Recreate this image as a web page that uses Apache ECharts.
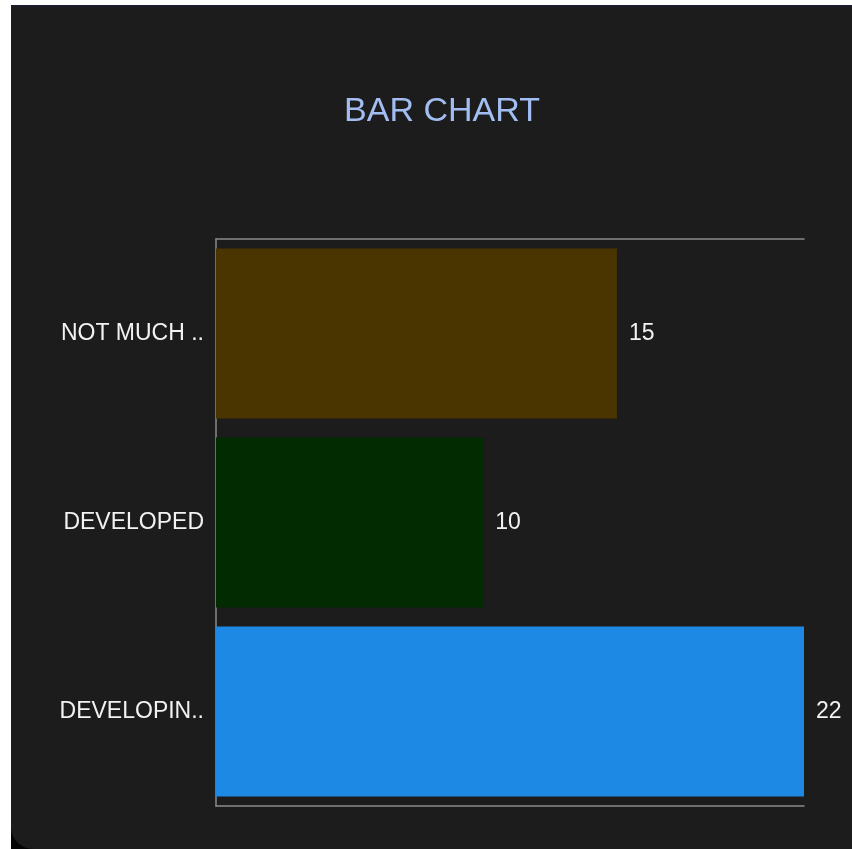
<!DOCTYPE html>
<html>
<head>
<meta charset="utf-8">
<script src="https://cdn.jsdelivr.net/npm/echarts@6/dist/echarts.min.js"></script>
<style>
  html, body { margin: 0; padding: 0; background: #ffffff; width: 852px; height: 849px; overflow: hidden; }
  #corner { position: absolute; left: 11px; top: 815px; width: 34px; height: 34px; background: #050505; }
  #card { position: absolute; left: 11px; top: 5px; width: 841px; height: 844px; background: #1c1c1c;
          border-top: 2px solid #1b1e2a; box-sizing: border-box; border-bottom-left-radius: 22px; }
  #chart { position: absolute; left: 0; top: 0; width: 852px; height: 849px; }
</style>
</head>
<body>
<div id="corner"></div>
<div id="card"></div>
<div id="chart"></div>
<script>
// Categories, values and colours for the bars
const categories = ["NOT MUCH ..", "DEVELOPED", "DEVELOPIN.."];
const values = [15, 10, 22];
const barColors = ["#4a3500", "#022b02", "#1e88e5"];

const chart = echarts.init(document.getElementById('chart'));

const lineStyle = { color: '#8a8a8a', width: 1.5 };
const labelFont = 'Liberation Sans, Arial, sans-serif';

chart.setOption({
  backgroundColor: 'transparent',
  animation: false,
  title: {
    text: 'BAR CHART',
    left: 437,
    textAlign: 'center',
    top: 90,
    textStyle: { color: '#a2bdf1', fontSize: 34, fontWeight: 'normal', fontFamily: labelFont }
  },
  grid: { left: 216, right: 48, top: 239, bottom: 43 },
  xAxis: [
    {
      type: 'value', min: 0, max: 22, position: 'bottom',
      axisLine: { show: true, lineStyle: lineStyle },
      axisTick: { show: false }, axisLabel: { show: false }, splitLine: { show: false }
    },
    {
      type: 'value', min: 0, max: 22, position: 'top',
      axisLine: { show: true, lineStyle: lineStyle },
      axisTick: { show: false }, axisLabel: { show: false }, splitLine: { show: false }
    }
  ],
  yAxis: {
    type: 'category',
    data: categories,
    inverse: true,
    axisLine: { show: true, lineStyle: lineStyle },
    axisTick: { show: false },
    axisLabel: { color: '#f2f2f2', fontSize: 23, margin: 12, fontFamily: labelFont }
  },
  series: [{
    type: 'bar',
    barWidth: '90%',
    data: values.map((v, i) => ({ value: v, itemStyle: { color: barColors[i] } })),
    label: {
      show: true, position: 'right', distance: 12,
      color: '#f2f2f2', fontSize: 23, fontFamily: labelFont
    }
  }]
});
</script>
</body>
</html>
